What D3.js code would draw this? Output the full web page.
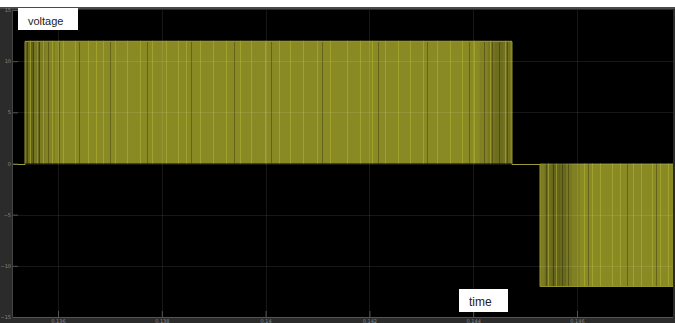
<!DOCTYPE html>
<html>
<head>
<meta charset="utf-8">
<script src="https://cdn.jsdelivr.net/npm/d3@7"></script>
<style>
  html, body { margin: 0; padding: 0; background: #ffffff; }
  svg { display: block; }
</style>
</head>
<body>
<svg id="chart" width="675" height="323"></svg>
<script>
// ---------------- data ----------------
const timeTicks = [0.136, 0.138, 0.140, 0.142, 0.144, 0.146];
const timeTickLabels = ["0.136", "0.138", "0.14", "0.142", "0.144", "0.146"];
const voltTicks = [15, 10, 5, 0, -5, -10, -15];
const timeDomain = [0.135133, 0.147850];
const voltDomain = [-15, 15];

// Envelope of the switched output: level held from stepTimes[i] to stepTimes[i+1]
const stepTimes = [0.135133, 0.135364, 0.144748, 0.145287, 0.147850];
const stepLevels = [0, 12, 0, -12];

// Apparent density (duty) of the PWM pulses along time, 1 = full olive shade
const shadeTimes = [0.135364, 0.135422, 0.135480, 0.135538, 0.135595, 0.135653, 0.135750, 0.135942,
                    0.144131, 0.144285, 0.144420, 0.144574, 0.144709,
                    0.145287, 0.145383, 0.145518, 0.145672, 0.145788, 0.145904, 0.146058];
const shadeEnds  = [0.135422, 0.135480, 0.135538, 0.135595, 0.135653, 0.135750, 0.135942, 0.144131,
                    0.144285, 0.144420, 0.144574, 0.144709, 0.144748,
                    0.145383, 0.145518, 0.145672, 0.145788, 0.145904, 0.146058, 0.147850];
const shadeLevels = [0.55, 0.72, 0.55, 0.8, 0.62, 0.85, 0.92, 1.0,
                     0.9, 0.78, 0.68, 0.74, 0.85,
                     0.85, 0.7, 0.58, 0.64, 0.8, 0.9, 1.0];

// Times of the brighter individual pulse lines
const brightPulses = [0.135460, 0.135595, 0.135711, 0.135884, 0.136096, 0.136328, 0.136578, 0.136732,
                      0.136867, 0.137098, 0.137329, 0.137580, 0.137811, 0.138081, 0.138312, 0.138466,
                      0.138736, 0.138987, 0.139237, 0.139507, 0.139719, 0.139988, 0.140258, 0.140470,
                      0.140721, 0.140990, 0.141241, 0.141568, 0.141819, 0.142050, 0.142301, 0.142551,
                      0.142782, 0.143033, 0.143303, 0.143553, 0.143784, 0.144016, 0.144324, 0.144613,
                      0.145441, 0.145595, 0.146135, 0.146289, 0.146443, 0.146674, 0.146829, 0.147079,
                      0.147233, 0.147445, 0.147599, 0.147753];

// Times of darker gaps between pulses (visible mostly in the low-duty zones)
const darkGaps = [0.135402, 0.135518, 0.135634, 0.135807, 0.136019, 0.136405, 0.137001, 0.137714,
                  0.138563, 0.139391, 0.140104, 0.141087, 0.142175, 0.143111, 0.143919,
                  0.144208, 0.144362, 0.144497, 0.144651, 0.145402, 0.145537, 0.145711, 0.145826,
                  0.146212, 0.146963, 0.147522];

const yLabel = "voltage";
const xLabel = "time";

// ---------------- drawing ----------------
const svg = d3.select("#chart");
const W = 675, H = 323;
const plot = { left: 13, right: 673, top: 10, bottom: 317 };

const x = d3.scaleLinear().domain(timeDomain).range([plot.left, plot.right]);
const y = d3.scaleLinear().domain(voltDomain).range([plot.bottom, plot.top]);

// frame
svg.append("rect").attr("x", 0).attr("y", 7).attr("width", W).attr("height", H - 7).attr("fill", "#2b2b2b");
svg.append("rect").attr("x", 0).attr("y", 7).attr("width", W).attr("height", 2).attr("fill", "#4a4a4a");
svg.append("rect").attr("x", plot.left).attr("y", plot.top)
  .attr("width", plot.right - plot.left).attr("height", plot.bottom - plot.top).attr("fill", "#000");
svg.append("line").attr("x1", plot.left).attr("x2", plot.right).attr("y1", plot.bottom + 0.5).attr("y2", plot.bottom + 0.5)
  .attr("stroke", "#555").attr("stroke-width", 1);
svg.append("line").attr("x1", plot.left - 0.5).attr("x2", plot.left - 0.5).attr("y1", plot.top).attr("y2", plot.bottom)
  .attr("stroke", "#444").attr("stroke-width", 1);

const g = svg.append("g");
const shadeColor = d3.interpolateRgb("#2e2e10", "#8a8a25");

const blockOf = t => Math.max(0, Math.min(stepLevels.length - 1, d3.bisectRight(stepTimes, t) - 1));

g.selectAll("rect.shade").data(shadeTimes.map((t, i) => ({ t0: t, t1: shadeEnds[i], v: shadeLevels[i] })))
  .join("rect").attr("class", "shade")
  .attr("x", d => x(d.t0))
  .attr("width", d => Math.max(0, x(d.t1) - x(d.t0)))
  .attr("y", d => { const L = stepLevels[blockOf((d.t0 + d.t1) / 2)]; return Math.min(y(L), y(0)); })
  .attr("height", d => { const L = stepLevels[blockOf((d.t0 + d.t1) / 2)]; return Math.abs(y(L) - y(0)); })
  .attr("fill", d => shadeColor(d.v));

// darker gaps
g.selectAll("line.gap").data(darkGaps).join("line").attr("class", "gap")
  .attr("x1", d => Math.round(x(d)) + 0.5).attr("x2", d => Math.round(x(d)) + 0.5)
  .attr("y1", d => y(stepLevels[blockOf(d)]))
  .attr("y2", y(0))
  .attr("stroke", "#000").attr("stroke-width", 1).attr("stroke-opacity", 0.28);

// brighter pulse lines
g.selectAll("line.pulse").data(brightPulses).join("line").attr("class", "pulse")
  .attr("x1", d => Math.round(x(d)) + 0.5).attr("x2", d => Math.round(x(d)) + 0.5)
  .attr("y1", d => y(stepLevels[blockOf(d)]))
  .attr("y2", y(0))
  .attr("stroke", "#b8b838").attr("stroke-width", 1).attr("stroke-opacity", 0.5);

// envelope step line
const stepPts = [];
stepLevels.forEach((L, i) => { stepPts.push([stepTimes[i], L]); stepPts.push([stepTimes[i + 1], L]); });
g.append("path")
  .attr("d", d3.line().x(d => x(d[0])).y(d => Math.round(y(d[1])) + 0.5)(stepPts))
  .attr("fill", "none").attr("stroke", "#94942a").attr("stroke-width", 1);

// grid over everything (faint)
const grid = svg.append("g");
grid.selectAll("line.gx").data(timeTicks).join("line").attr("class", "gx")
  .attr("x1", d => Math.round(x(d)) + 0.5).attr("x2", d => Math.round(x(d)) + 0.5)
  .attr("y1", plot.top).attr("y2", plot.bottom)
  .attr("stroke", "#fff").attr("stroke-opacity", 0.09);
grid.selectAll("line.gy").data(voltTicks.filter(v => v > voltDomain[0] && v < voltDomain[1])).join("line").attr("class", "gy")
  .attr("x1", plot.left).attr("x2", plot.right)
  .attr("y1", d => Math.round(y(d)) + 0.5).attr("y2", d => Math.round(y(d)) + 0.5)
  .attr("stroke", "#fff").attr("stroke-opacity", 0.09);

// axes
const yAxis = d3.axisLeft(y).tickValues(voltTicks).tickSize(-5).tickPadding(2).tickFormat(d3.format("d"));
const ya = svg.append("g").attr("transform", `translate(${plot.left},0)`).call(yAxis);
const xAxis = d3.axisBottom(x).tickValues(timeTicks).tickSize(-6).tickPadding(2)
  .tickFormat((d, i) => timeTickLabels[i]);
const xa = svg.append("g").attr("transform", `translate(0,${plot.bottom})`).call(xAxis);
[ya, xa].forEach(a => {
  a.select(".domain").remove();
  a.selectAll(".tick line").attr("stroke", "#555");
  a.selectAll(".tick text").attr("fill", "#888").attr("font-size", 5).attr("font-family", "DejaVu Sans");
});

// annotation boxes
svg.append("rect").attr("x", 18).attr("y", 8).attr("width", 60).attr("height", 22).attr("fill", "#fff");
svg.append("text").attr("x", 28).attr("y", 25).text(yLabel)
  .attr("font-family", "Liberation Sans, Arial, sans-serif").attr("font-size", 11).attr("fill", "#222");
svg.append("rect").attr("x", 459).attr("y", 289).attr("width", 49).attr("height", 23).attr("fill", "#fff");
svg.append("text").attr("x", 469).attr("y", 306).text(xLabel)
  .attr("font-family", "Liberation Sans, Arial, sans-serif").attr("font-size", 12).attr("fill", "#222");
</script>
</body>
</html>
